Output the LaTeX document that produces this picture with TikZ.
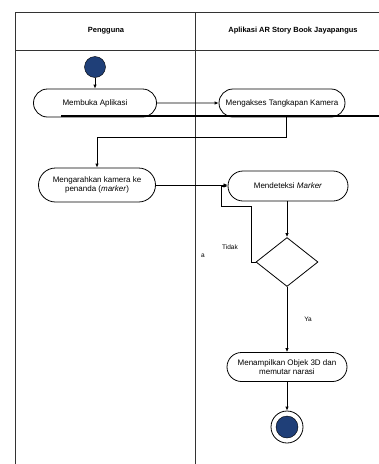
\documentclass[tikz,border=0pt]{standalone}
\usepackage{fontspec}
\setmainfont{Liberation Sans}
\usetikzlibrary{shapes.geometric,shapes.misc,arrows.meta}
\definecolor{nodeblue}{RGB}{31,63,120}
\begin{document}
\begin{tikzpicture}[x=1pt,y=-1pt,font=\fontsize{8}{9.5}\selectfont,
    act/.style={rounded rectangle, draw, line width=0.8pt, minimum height=28pt, align=center, inner sep=2pt},
    flow/.style={draw, line width=0.8pt, -{Latex[length=4pt,width=3.5pt]}},
    lane/.style={draw, line width=0.8pt, color=black!80}]
  \useasboundingbox (0,0) rectangle (379,464);
  % swimlanes
  \draw[lane] (15,464) |- (379,12);
  \draw[lane] (15,50) -- (379,50);
  \draw[lane] (195,12) -- (195,464);
  \node[font=\bfseries\fontsize{7.5}{9}\selectfont] (h1) at (106,31) {Pengguna};
  \node[font=\bfseries\fontsize{7.5}{9}\selectfont] (h2) at (293,31) {Aplikasi AR Story Book Jayapangus};
  % nodes
  \node[circle, draw, fill=nodeblue, minimum size=21pt, inner sep=0pt] (s) at (95,67) {};
  \node[act, minimum width=127pt] (a) at (95,103) {Membuka Aplikasi};
  \node[act, minimum width=130pt] (b) at (282,103) {Mengakses Tangkapan Kamera};
  \node[act, minimum width=121pt, minimum height=34pt] (c) at (97,185) {Mengarahkan kamera ke\\penanda (\textit{marker})};
  \node[act, minimum width=124pt, minimum height=30pt] (d) at (288,186) {Mendeteksi \textit{Marker}};
  \node[diamond, draw, line width=0.8pt, minimum width=62pt, minimum height=49pt, inner sep=0pt] (e) at (287,262) {};
  \node[act, minimum width=124pt, minimum height=29pt] (f) at (287,367) {Menampilkan Objek 3D dan\\memutar narasi};
  \node[circle, draw, line width=0.8pt, minimum size=32pt, inner sep=0pt] (g) at (287,427) {};
  \node[circle, draw, fill=nodeblue, minimum size=22pt, inner sep=0pt] (gi) at (g) {};
  % bar
  \draw[line width=2pt] (61,116) -- (379,116);
  % connectors
  \draw[flow] (s) -- (a);
  \draw[flow] (a) -- (b);
  \draw[flow] ([xshift=4pt]b.south) -- ++(0,20) -| (c.north);
  \draw[flow] (c.east) -- (c.east -| d.west);
  \draw[flow] (d.south -| e.north) -- (e.north);
  \draw[flow] (e.west) -| (251,206) -| (221,186) -- (d.west);
  \draw[flow] (e.south) -- (f.north);
  \draw[flow] (f.south) -- (g.north);
  % labels
  \node[font=\fontsize{6.5}{8}\selectfont] (t) at (230,247) {Tidak};
  \node[font=\fontsize{6.5}{8}\selectfont] (ta) at (203,256) {a};
  \node[font=\fontsize{6.5}{8}\selectfont] (y) at (308,319) {Ya};
\end{tikzpicture}
\end{document}
